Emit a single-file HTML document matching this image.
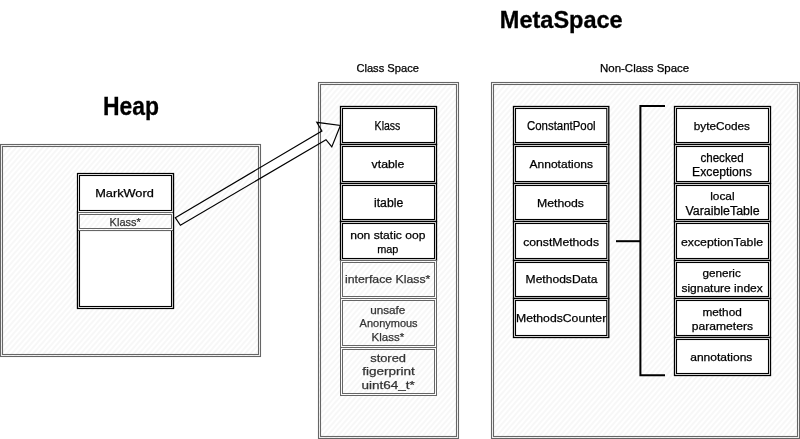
<!DOCTYPE html>
<html><head><meta charset="utf-8"><title>MetaSpace</title>
<style>
html,body{margin:0;padding:0;background:#fff;}
body{width:800px;height:439px;overflow:hidden;font-family:"Liberation Sans",sans-serif;}
svg{display:block;will-change:transform;}
</style></head>
<body>
<svg width="800" height="439" viewBox="0 0 800 439">
<defs>
<pattern id="hatch" patternUnits="userSpaceOnUse" width="4" height="6" patternTransform="rotate(41)">
<rect width="4" height="6" fill="#fff"/>
<line x1="1" y1="0" x2="1" y2="6" stroke="#f0f0f0" stroke-width="1"/>
</pattern>
</defs>
<rect x="0.5" y="144.5" width="260.0" height="212.0" fill="url(#hatch)" stroke="none"/>
<rect x="0.5" y="144.5" width="260.0" height="212.0" fill="none" stroke="#666" stroke-width="1.1"/>
<rect x="2.5" y="146.5" width="256.0" height="208.0" fill="none" stroke="#666" stroke-width="1.1"/>
<rect x="318.5" y="82.5" width="140.0" height="356.0" fill="url(#hatch)" stroke="none"/>
<rect x="318.5" y="82.5" width="140.0" height="356.0" fill="none" stroke="#666" stroke-width="1.1"/>
<rect x="320.5" y="84.5" width="136.0" height="352.0" fill="none" stroke="#666" stroke-width="1.1"/>
<rect x="491.5" y="82.5" width="308.0" height="356.0" fill="url(#hatch)" stroke="none"/>
<rect x="491.5" y="82.5" width="308.0" height="356.0" fill="none" stroke="#666" stroke-width="1.1"/>
<rect x="493.5" y="84.5" width="304.0" height="352.0" fill="none" stroke="#666" stroke-width="1.1"/>
<rect x="77.5" y="173.5" width="96" height="135" fill="#fff" stroke="#000" stroke-width="1.2"/>
<rect x="79.5" y="175.5" width="92" height="35" fill="none" stroke="#000" stroke-width="1.1"/>
<rect x="79.5" y="230.5" width="92" height="76" fill="none" stroke="#000" stroke-width="1.1"/>
<rect x="77.5" y="212.5" width="96.0" height="18.0" fill="url(#hatch)" stroke="#666" stroke-width="1.0"/>
<rect x="79.5" y="214.5" width="92.0" height="14.0" fill="none" stroke="#666" stroke-width="1.0"/>
<line x1="77.5" y1="211" x2="77.5" y2="308.5" stroke="#000" stroke-width="1.2"/>
<line x1="173.5" y1="173.5" x2="173.5" y2="308.5" stroke="#000" stroke-width="1.2"/>
<rect x="340.5" y="106.5" width="96.0" height="38.0" fill="#fff" stroke="#000" stroke-width="1.3"/>
<rect x="342.5" y="108.5" width="92.0" height="34.0" fill="none" stroke="#000" stroke-width="1.1"/>
<rect x="340.5" y="144.5" width="96.0" height="39.0" fill="#fff" stroke="#000" stroke-width="1.3"/>
<rect x="342.5" y="146.5" width="92.0" height="35.0" fill="none" stroke="#000" stroke-width="1.1"/>
<rect x="340.5" y="183.5" width="96.0" height="38.0" fill="#fff" stroke="#000" stroke-width="1.3"/>
<rect x="342.5" y="185.5" width="92.0" height="34.0" fill="none" stroke="#000" stroke-width="1.1"/>
<rect x="340.5" y="221.5" width="96.0" height="39.0" fill="#fff" stroke="#000" stroke-width="1.3"/>
<rect x="342.5" y="223.5" width="92.0" height="35.0" fill="none" stroke="#000" stroke-width="1.1"/>
<rect x="340.5" y="260.5" width="96.0" height="38.0" fill="url(#hatch)" stroke="#666" stroke-width="1.0"/>
<rect x="342.5" y="262.5" width="92.0" height="34.0" fill="none" stroke="#666" stroke-width="1.0"/>
<rect x="340.5" y="298.5" width="96.0" height="49.0" fill="url(#hatch)" stroke="#666" stroke-width="1.0"/>
<rect x="342.5" y="300.5" width="92.0" height="45.0" fill="none" stroke="#666" stroke-width="1.0"/>
<rect x="340.5" y="347.5" width="96.0" height="48.0" fill="url(#hatch)" stroke="#666" stroke-width="1.0"/>
<rect x="342.5" y="349.5" width="92.0" height="44.0" fill="none" stroke="#666" stroke-width="1.0"/>
<rect x="513.5" y="106.5" width="95.29999999999995" height="38.0" fill="#fff" stroke="#000" stroke-width="1.3"/>
<rect x="515.5" y="108.5" width="91.29999999999995" height="34.0" fill="none" stroke="#000" stroke-width="1.1"/>
<rect x="513.5" y="144.5" width="95.29999999999995" height="39.0" fill="#fff" stroke="#000" stroke-width="1.3"/>
<rect x="515.5" y="146.5" width="91.29999999999995" height="35.0" fill="none" stroke="#000" stroke-width="1.1"/>
<rect x="513.5" y="183.5" width="95.29999999999995" height="38.0" fill="#fff" stroke="#000" stroke-width="1.3"/>
<rect x="515.5" y="185.5" width="91.29999999999995" height="34.0" fill="none" stroke="#000" stroke-width="1.1"/>
<rect x="513.5" y="221.5" width="95.29999999999995" height="39.0" fill="#fff" stroke="#000" stroke-width="1.3"/>
<rect x="515.5" y="223.5" width="91.29999999999995" height="35.0" fill="none" stroke="#000" stroke-width="1.1"/>
<rect x="513.5" y="260.5" width="95.29999999999995" height="38.0" fill="#fff" stroke="#000" stroke-width="1.3"/>
<rect x="515.5" y="262.5" width="91.29999999999995" height="34.0" fill="none" stroke="#000" stroke-width="1.1"/>
<rect x="513.5" y="298.5" width="95.29999999999995" height="39.0" fill="#fff" stroke="#000" stroke-width="1.3"/>
<rect x="515.5" y="300.5" width="91.29999999999995" height="35.0" fill="none" stroke="#000" stroke-width="1.1"/>
<rect x="674.5" y="106.5" width="96.0" height="38.0" fill="#fff" stroke="#000" stroke-width="1.3"/>
<rect x="676.5" y="108.5" width="92.0" height="34.0" fill="none" stroke="#000" stroke-width="1.1"/>
<rect x="674.5" y="144.5" width="96.0" height="39.0" fill="#fff" stroke="#000" stroke-width="1.3"/>
<rect x="676.5" y="146.5" width="92.0" height="35.0" fill="none" stroke="#000" stroke-width="1.1"/>
<rect x="674.5" y="183.5" width="96.0" height="38.0" fill="#fff" stroke="#000" stroke-width="1.3"/>
<rect x="676.5" y="185.5" width="92.0" height="34.0" fill="none" stroke="#000" stroke-width="1.1"/>
<rect x="674.5" y="221.5" width="96.0" height="39.0" fill="#fff" stroke="#000" stroke-width="1.3"/>
<rect x="676.5" y="223.5" width="92.0" height="35.0" fill="none" stroke="#000" stroke-width="1.1"/>
<rect x="674.5" y="260.5" width="96.0" height="38.0" fill="#fff" stroke="#000" stroke-width="1.3"/>
<rect x="676.5" y="262.5" width="92.0" height="34.0" fill="none" stroke="#000" stroke-width="1.1"/>
<rect x="674.5" y="298.5" width="96.0" height="39.0" fill="#fff" stroke="#000" stroke-width="1.3"/>
<rect x="676.5" y="300.5" width="92.0" height="35.0" fill="none" stroke="#000" stroke-width="1.1"/>
<rect x="674.5" y="337.5" width="96.0" height="38.0" fill="#fff" stroke="#000" stroke-width="1.3"/>
<rect x="676.5" y="339.5" width="92.0" height="34.0" fill="none" stroke="#000" stroke-width="1.1"/>
<path d="M665 106 L640.4 106 L640.4 375.3 L665 375.3" fill="none" stroke="#000" stroke-width="2"/>
<path d="M616 241.2 L640.4 241.2" fill="none" stroke="#000" stroke-width="2"/>
<path d="M175.3 217.7 L321.9 131 L316.8 122.3 L340.4 125.4 L331.8 146.9 L326 139.7 L180.4 225.3 Z" fill="none" stroke="#000" stroke-width="1.2" stroke-linejoin="miter"/>
<g font-family="Liberation Sans, sans-serif">
<text x="103.00" y="115.3" font-size="25" fill="#000" font-weight="bold" stroke="#000" stroke-width="0.3" textLength="56.00" lengthAdjust="spacingAndGlyphs">Heap</text>
<text x="499.80" y="28.3" font-size="24" fill="#000" font-weight="bold" stroke="#000" stroke-width="0.3" textLength="122.90" lengthAdjust="spacingAndGlyphs">MetaSpace</text>
<text x="356.40" y="71.5" font-size="10.5" fill="#000" font-weight="normal" stroke="#000" stroke-width="0.25" textLength="62.60" lengthAdjust="spacingAndGlyphs">Class Space</text>
<text x="600.00" y="71.7" font-size="10.5" fill="#000" font-weight="normal" stroke="#000" stroke-width="0.25" textLength="89.20" lengthAdjust="spacingAndGlyphs">Non-Class Space</text>
<text x="95.20" y="196.7" font-size="11" fill="#000" font-weight="normal" stroke="#000" stroke-width="0.25" textLength="58.60" lengthAdjust="spacingAndGlyphs">MarkWord</text>
<text x="109.60" y="225.6" font-size="11.5" fill="#333" font-weight="normal" stroke="#333" stroke-width="0.25" textLength="31.20" lengthAdjust="spacingAndGlyphs">Klass*</text>
<text x="374.60" y="129.8" font-size="12.5" fill="#000" font-weight="normal" stroke="#000" stroke-width="0.25" textLength="25.80" lengthAdjust="spacingAndGlyphs">Klass</text>
<text x="371.60" y="167.8" font-size="11" fill="#000" font-weight="normal" stroke="#000" stroke-width="0.25" textLength="32.80" lengthAdjust="spacingAndGlyphs">vtable</text>
<text x="374.00" y="206.7" font-size="12" fill="#000" font-weight="normal" stroke="#000" stroke-width="0.25" textLength="29.20" lengthAdjust="spacingAndGlyphs">itable</text>
<text x="350.20" y="238.9" font-size="11.5" fill="#000" font-weight="normal" stroke="#000" stroke-width="0.25" textLength="75.20" lengthAdjust="spacingAndGlyphs">non static oop</text>
<text x="377.20" y="252.5" font-size="11.5" fill="#000" font-weight="normal" stroke="#000" stroke-width="0.25" textLength="21.20" lengthAdjust="spacingAndGlyphs">map</text>
<text x="345.00" y="283.3" font-size="11.5" fill="#333" font-weight="normal" stroke="#333" stroke-width="0.25" textLength="85.40" lengthAdjust="spacingAndGlyphs">interface Klass*</text>
<text x="370.20" y="314" font-size="11.5" fill="#333" font-weight="normal" stroke="#333" stroke-width="0.25" textLength="35.20" lengthAdjust="spacingAndGlyphs">unsafe</text>
<text x="359.60" y="326.9" font-size="11" fill="#333" font-weight="normal" stroke="#333" stroke-width="0.25" textLength="58.00" lengthAdjust="spacingAndGlyphs">Anonymous</text>
<text x="371.60" y="341.4" font-size="11.5" fill="#333" font-weight="normal" stroke="#333" stroke-width="0.25" textLength="32.60" lengthAdjust="spacingAndGlyphs">Klass*</text>
<text x="370.20" y="361.8" font-size="11.5" fill="#333" font-weight="normal" stroke="#333" stroke-width="0.25" textLength="35.80" lengthAdjust="spacingAndGlyphs">stored</text>
<text x="362.20" y="374.8" font-size="11.5" fill="#333" font-weight="normal" stroke="#333" stroke-width="0.25" textLength="52.60" lengthAdjust="spacingAndGlyphs">figerprint</text>
<text x="361.40" y="389.3" font-size="11.5" fill="#333" font-weight="normal" stroke="#333" stroke-width="0.25" textLength="53.40" lengthAdjust="spacingAndGlyphs">uint64_t*</text>
<text x="527.00" y="129.5" font-size="12" fill="#000" font-weight="normal" stroke="#000" stroke-width="0.25" textLength="68.60" lengthAdjust="spacingAndGlyphs">ConstantPool</text>
<text x="529.60" y="167.7" font-size="10.5" fill="#000" font-weight="normal" stroke="#000" stroke-width="0.25" textLength="63.40" lengthAdjust="spacingAndGlyphs">Annotations</text>
<text x="537.00" y="206.9" font-size="11.5" fill="#000" font-weight="normal" stroke="#000" stroke-width="0.25" textLength="47.00" lengthAdjust="spacingAndGlyphs">Methods</text>
<text x="523.20" y="245.5" font-size="11.5" fill="#000" font-weight="normal" stroke="#000" stroke-width="0.25" textLength="75.80" lengthAdjust="spacingAndGlyphs">constMethods</text>
<text x="525.60" y="283.4" font-size="11.5" fill="#000" font-weight="normal" stroke="#000" stroke-width="0.25" textLength="71.80" lengthAdjust="spacingAndGlyphs">MethodsData</text>
<text x="516.00" y="322.4" font-size="11.5" fill="#000" font-weight="normal" stroke="#000" stroke-width="0.25" textLength="90.20" lengthAdjust="spacingAndGlyphs">MethodsCounter</text>
<text x="693.80" y="129.6" font-size="11.5" fill="#000" font-weight="normal" stroke="#000" stroke-width="0.25" textLength="56.20" lengthAdjust="spacingAndGlyphs">byteCodes</text>
<text x="700.40" y="161.5" font-size="12" fill="#000" font-weight="normal" stroke="#000" stroke-width="0.25" textLength="43.20" lengthAdjust="spacingAndGlyphs">checked</text>
<text x="692.00" y="176" font-size="12" fill="#000" font-weight="normal" stroke="#000" stroke-width="0.25" textLength="59.80" lengthAdjust="spacingAndGlyphs">Exceptions</text>
<text x="710.20" y="199.8" font-size="11.5" fill="#000" font-weight="normal" stroke="#000" stroke-width="0.25" textLength="24.40" lengthAdjust="spacingAndGlyphs">local</text>
<text x="685.40" y="214.6" font-size="12" fill="#000" font-weight="normal" stroke="#000" stroke-width="0.25" textLength="74.20" lengthAdjust="spacingAndGlyphs">VaraibleTable</text>
<text x="681.00" y="245.5" font-size="11.5" fill="#000" font-weight="normal" stroke="#000" stroke-width="0.25" textLength="82.00" lengthAdjust="spacingAndGlyphs">exceptionTable</text>
<text x="702.40" y="276.8" font-size="11.5" fill="#000" font-weight="normal" stroke="#000" stroke-width="0.25" textLength="38.40" lengthAdjust="spacingAndGlyphs">generic</text>
<text x="681.40" y="291.5" font-size="11.5" fill="#000" font-weight="normal" stroke="#000" stroke-width="0.25" textLength="81.40" lengthAdjust="spacingAndGlyphs">signature index</text>
<text x="702.40" y="315.8" font-size="11.5" fill="#000" font-weight="normal" stroke="#000" stroke-width="0.25" textLength="39.40" lengthAdjust="spacingAndGlyphs">method</text>
<text x="691.80" y="329.5" font-size="11.5" fill="#000" font-weight="normal" stroke="#000" stroke-width="0.25" textLength="61.20" lengthAdjust="spacingAndGlyphs">parameters</text>
<text x="690.20" y="361.3" font-size="11.5" fill="#000" font-weight="normal" stroke="#000" stroke-width="0.25" textLength="62.20" lengthAdjust="spacingAndGlyphs">annotations</text>
</g>
</svg>
</body></html>
